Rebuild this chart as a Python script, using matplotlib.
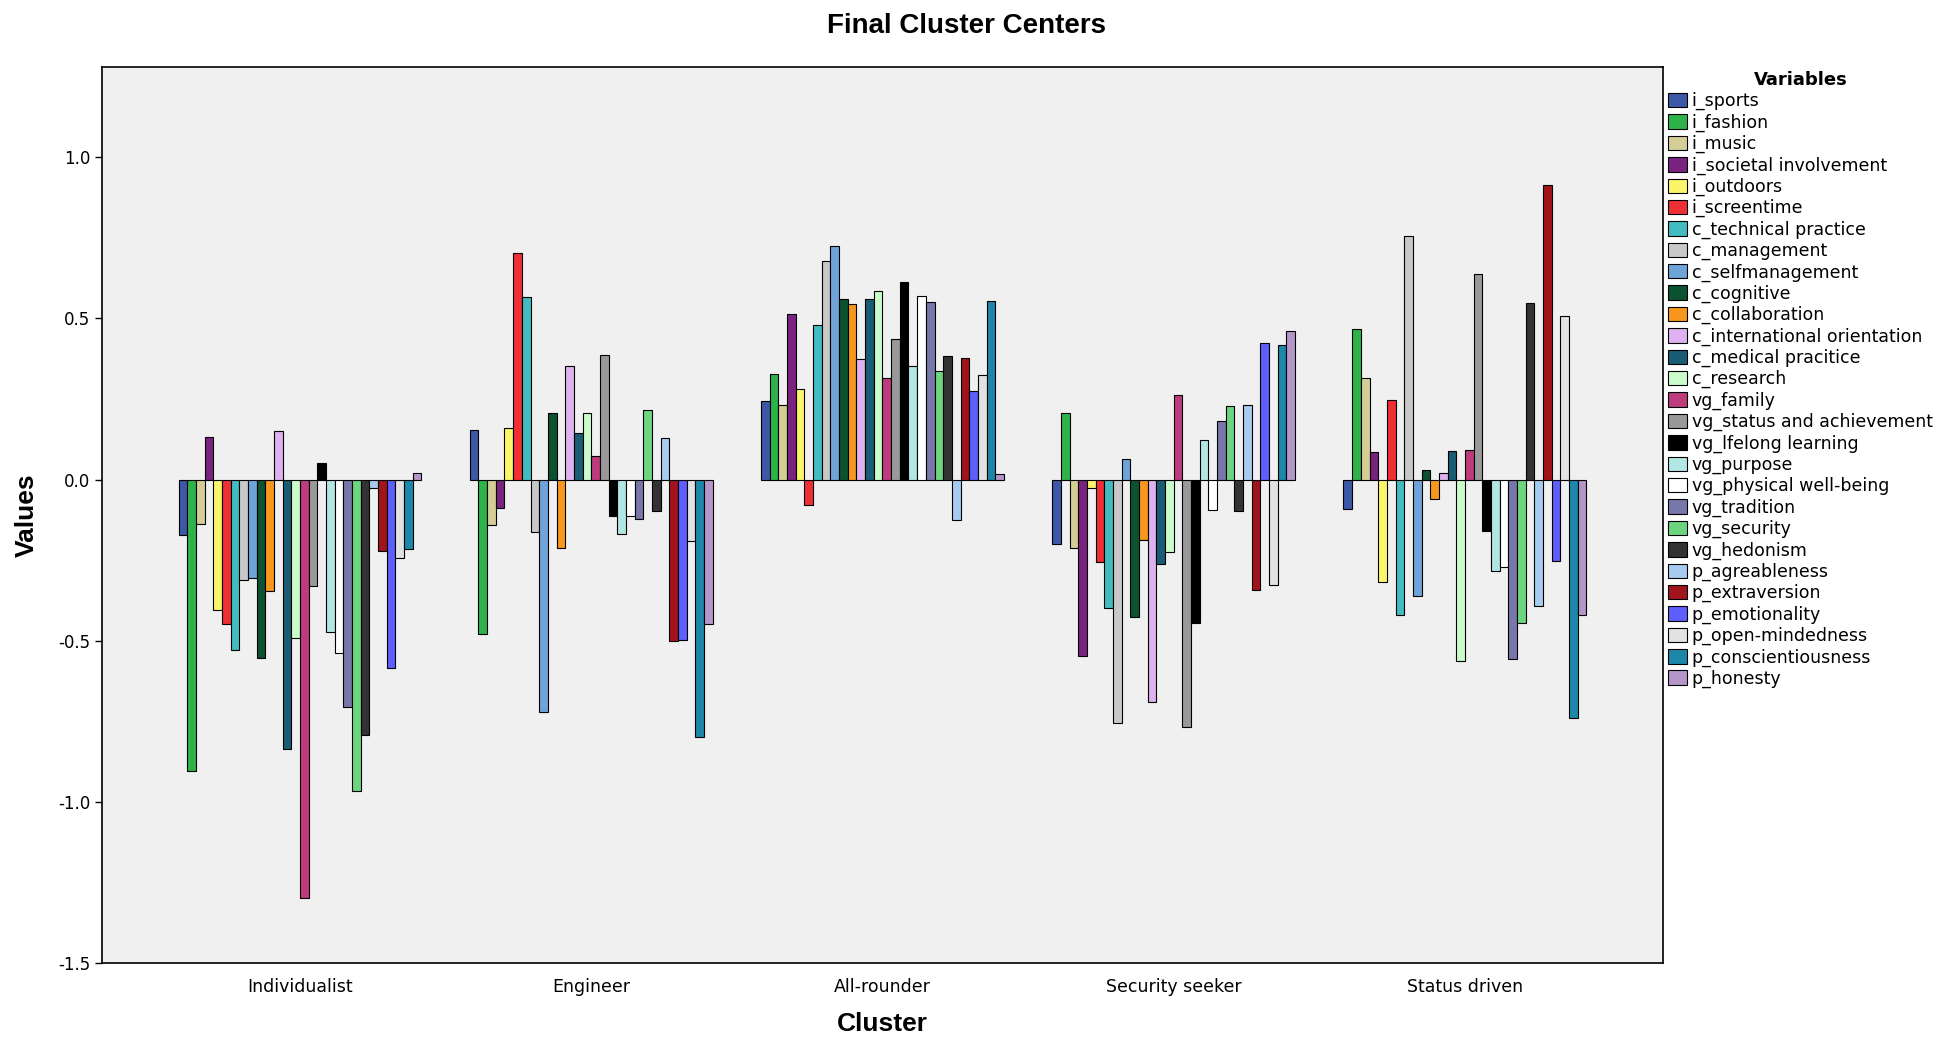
import numpy as np
import matplotlib
matplotlib.use('Agg')
import matplotlib.pyplot as plt

clusters = ['Individualist', 'Engineer', 'All-rounder', 'Security seeker', 'Status driven']

variables = ['i_sports', 'i_fashion', 'i_music', 'i_societal involvement', 'i_outdoors',
             'i_screentime', 'c_technical practice', 'c_management', 'c_selfmanagement',
             'c_cognitive', 'c_collaboration', 'c_international orientation',
             'c_medical pracitice', 'c_research', 'vg_family', 'vg_status and achievement',
             'vg_lfelong learning', 'vg_purpose', 'vg_physical well-being', 'vg_tradition',
             'vg_security', 'vg_hedonism', 'p_agreableness', 'p_extraversion',
             'p_emotionality', 'p_open-mindedness', 'p_conscientiousness', 'p_honesty']

colors = ['#3e58a8', '#2db34a', '#d4ce96', '#7a2280', '#fbf56a', '#ee3035', '#41bdc1',
          '#c8c8c8', '#6fa4d8', '#0b5230', '#f7971d', '#ddb2ee', '#1a5c73', '#cbfdcc',
          '#be3b7d', '#999999', '#000000', '#b1e6e4', '#ffffff', '#7777aa', '#6bd67f',
          '#333333', '#a7cbee', '#a2141b', '#5e5efc', '#e2e2e2', '#1d87aa', '#b596c8']

# one row per cluster, one value per variable
individualist = [-0.171, -0.903, -0.138, 0.133, -0.404, -0.448, -0.530, -0.311, -0.305, -0.554,
                 -0.346, 0.152, -0.837, -0.490, -1.298, -0.330, 0.051, -0.473, -0.537, -0.706,
                 -0.965, -0.791, -0.026, -0.221, -0.584, -0.244, -0.215, 0.020]
engineer = [0.154, -0.480, -0.142, -0.089, 0.159, 0.702, 0.567, -0.162, -0.722, 0.206,
            -0.211, 0.352, 0.144, 0.206, 0.073, 0.386, -0.113, -0.168, -0.112, -0.122,
            0.216, -0.097, 0.128, -0.502, -0.498, -0.191, -0.800, -0.448]
all_rounder = [0.244, 0.328, 0.232, 0.515, 0.280, -0.080, 0.480, 0.679, 0.724, 0.560,
               0.545, 0.374, 0.560, 0.586, 0.314, 0.436, 0.614, 0.353, 0.570, 0.550,
               0.337, 0.383, -0.126, 0.378, 0.275, 0.324, 0.555, 0.017]
security_seeker = [-0.200, 0.207, -0.211, -0.548, -0.026, -0.256, -0.398, -0.754, 0.064, -0.427,
                   -0.189, -0.689, -0.262, -0.226, 0.261, -0.769, -0.444, 0.124, -0.093, 0.181,
                   0.228, -0.099, 0.231, -0.344, 0.423, -0.328, 0.418, 0.462]
status_driven = [-0.091, 0.468, 0.316, 0.085, -0.318, 0.248, -0.420, 0.755, -0.361, 0.031,
                 -0.059, 0.020, 0.088, -0.563, 0.093, 0.637, -0.160, -0.285, -0.270, -0.556,
                 -0.446, 0.548, -0.392, 0.914, -0.253, 0.509, -0.741, -0.421]

values = np.array([individualist, engineer, all_rounder, security_seeker, status_driven])

fig = plt.figure(figsize=(19.53, 10.39), dpi=100)
ax = fig.add_axes([0.0522, 0.0731, 0.7993, 0.8624])
ax.set_facecolor('#f0f0f0')

n = len(variables)
group_w = 0.834
bw = group_w / n
x = np.arange(len(clusters))
for i in range(n):
    pos = x - group_w / 2 + bw * (i + 0.5)
    ax.bar(pos, values[:, i], width=bw, color=colors[i], edgecolor='black',
           linewidth=0.8, label=variables[i])

ax.set_xlim(-0.68, 4.68)
ax.set_ylim(-1.5, 1.28)
ax.set_xticks(x)
ax.set_xticklabels(clusters, fontsize=12.5)
ax.tick_params(axis='x', length=0, pad=11)
ax.set_yticks([1.0, 0.5, 0.0, -0.5, -1.0, -1.5])
ax.set_yticklabels(['1.0', '0.5', '0.0', '-0.5', '-1.0', '-1.5'], fontsize=12)
ax.tick_params(axis='y', length=5, width=1)

for spine in ax.spines.values():
    spine.set_linewidth(1.2)

ax.set_xlabel('Cluster', fontsize=19, fontweight='bold', family='Liberation Sans', va='center')
ax.xaxis.set_label_coords(0.5, -0.068)
ax.set_ylabel('Values', fontsize=19, fontweight='bold', family='Liberation Sans', va='center')
ax.yaxis.set_label_coords(-0.048, 0.5)
fig.text(0.495, 0.975, 'Final Cluster Centers', fontsize=20, fontweight='bold',
         family='Liberation Sans', ha='center', va='center')

leg = ax.legend(loc='upper left', bbox_to_anchor=(0.8525, 0.935),
                bbox_transform=fig.transFigure, frameon=False, fontsize=12.5,
                title='Variables', title_fontproperties={'weight': 'bold', 'size': 13},
                handlelength=1.05, handleheight=0.9, handletextpad=0.3,
                labelspacing=0.18, borderaxespad=0, borderpad=0.2)

fig.savefig('out.png', dpi=100, facecolor='white')
